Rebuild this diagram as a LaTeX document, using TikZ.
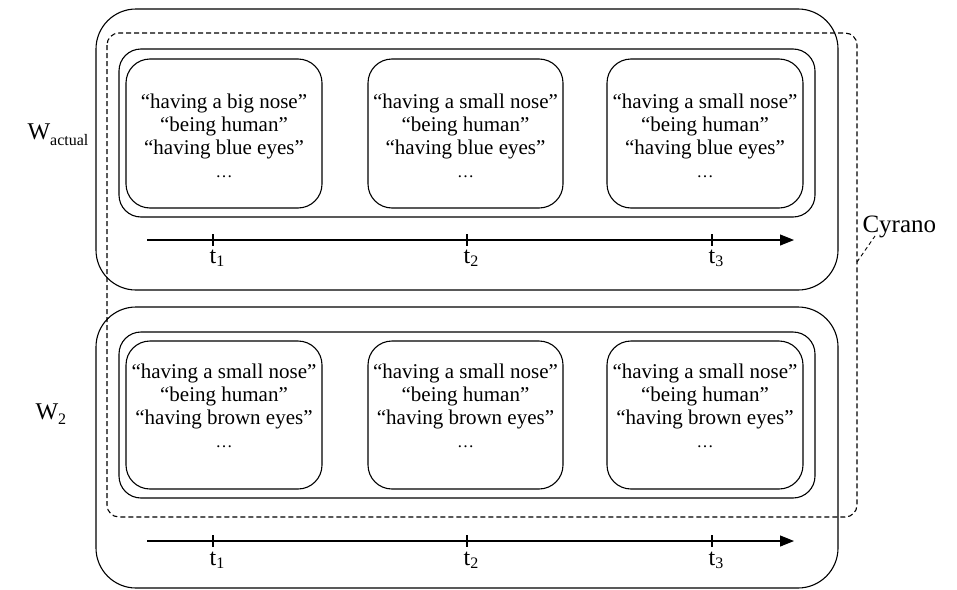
\documentclass[tikz,border=0pt]{standalone}
\usepackage{fontspec}
\setmainfont{Liberation Serif}
\usetikzlibrary{arrows.meta}
\newcommand\mysub[3]{\raisebox{-#3}{\fontsize{#2}{#2}\selectfont #1}}
\newcommand\mydots{{\fontsize{17}{17}\selectfont …}}
\begin{document}
\begin{tikzpicture}[x=1pt,y=-1pt,line width=1.1pt,
  outerbox/.style={draw,rounded corners=40pt},
  framebox/.style={draw,rounded corners=22pt},
  propbox/.style={draw,rounded corners=24pt},
  dashbox/.style={draw,dash pattern=on 5pt off 3pt,rounded corners=12pt},
  proptext/.style={align=center,inner sep=0pt,anchor=north,font=\fontsize{21}{23}\selectfont},
  timeline/.style={-{Triangle[length=14pt,width=11pt]}},
  tlabel/.style={inner sep=0pt,anchor=base,font=\fontsize{24}{26}\selectfont},
  wlabel/.style={inner sep=0pt,anchor=base west,font=\fontsize{24}{26}\selectfont}]
\useasboundingbox (0,0) rectangle (957,589);
% outer world boxes
\draw[outerbox] (96,9) rectangle (838,290);
\draw[outerbox] (96,307) rectangle (838,588);
% dashed Cyrano box
\draw[dashbox] (107,33) rectangle (857,517);
% frames
\draw[framebox] (119,49) rectangle (815,217);
\draw[framebox] (119,332) rectangle (815,498);
% property boxes top
\draw[propbox] (126,59) rectangle (322,208);
\draw[propbox] (368,59) rectangle (563,208);
\draw[propbox] (607,59) rectangle (803,208);
% property boxes bottom
\draw[propbox] (126,341) rectangle (322,489);
\draw[propbox] (368,341) rectangle (563,489);
\draw[propbox] (607,341) rectangle (803,489);
% texts
\node[proptext] (p11) at (224,93.5) {“having a big nose”\\“being human”\\“having blue eyes”\\\mydots};
\node[proptext] (p12) at (465.5,93.5) {“having a small nose”\\“being human”\\“having blue eyes”\\\mydots};
\node[proptext] (p13) at (705,93.5) {“having a small nose”\\“being human”\\“having blue eyes”\\\mydots};
\node[proptext] (p21) at (224,363.5) {“having a small nose”\\“being human”\\“having brown eyes”\\\mydots};
\node[proptext] (p22) at (465.5,363.5) {“having a small nose”\\“being human”\\“having brown eyes”\\\mydots};
\node[proptext] (p23) at (705,363.5) {“having a small nose”\\“being human”\\“having brown eyes”\\\mydots};
% timelines
\coordinate (a1s) at (147,240);
\coordinate (a1e) at (794,240);
\coordinate (a2s) at (147,541);
\coordinate (a2e) at (794,541);
\draw[timeline] (a1s) -- (a1e);
\draw[timeline] (a2s) -- (a2e);
\foreach \x in {213,467,712}{
  \draw (\x,234) -- (\x,246);
  \draw (\x,535) -- (\x,547);
}
\node[tlabel] (t11) at (217,263) {t\mysub{1}{16}{3pt}};
\node[tlabel] (t12) at (471,263) {t\mysub{2}{16}{3pt}};
\node[tlabel] (t13) at (716,263) {t\mysub{3}{16}{3pt}};
\node[tlabel] (t21) at (217,565) {t\mysub{1}{16}{3pt}};
\node[tlabel] (t22) at (471,565) {t\mysub{2}{16}{3pt}};
\node[tlabel] (t23) at (716,565) {t\mysub{3}{16}{3pt}};
% world labels
\node[wlabel] (wa) at (27,139) {W\mysub{actual}{16}{6pt}};
\node[wlabel] (w2) at (35,419) {W\mysub{2}{16}{5pt}};
% Cyrano
\node[inner sep=0pt,anchor=base west,font=\fontsize{25}{28}\selectfont] (cyr) at (862,232) {Cyrano};
\coordinate (cyrA) at (857,262);
\coordinate (cyrB) at (875,236);
\draw[dash pattern=on 4pt off 3pt,line width=0.9pt] (cyrA) -- (cyrB);
\end{tikzpicture}
\end{document}
